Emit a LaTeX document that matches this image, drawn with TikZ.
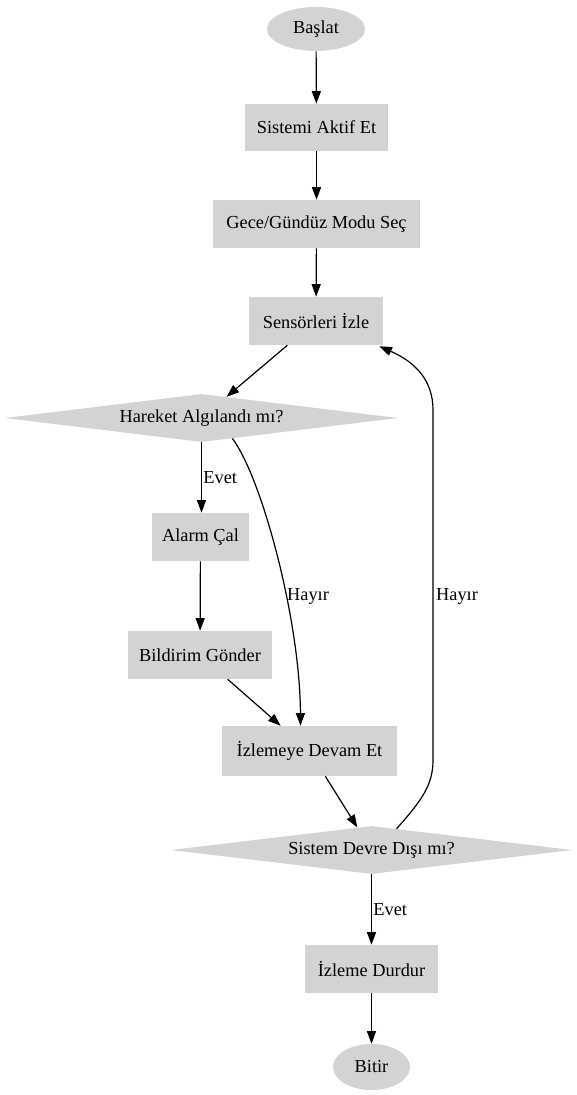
\documentclass[tikz,border=0pt]{standalone}
\usepackage{fontspec}
\setmainfont{Liberation Serif}
\usetikzlibrary{shapes.geometric,arrows.meta,calc}
\definecolor{gvgray}{HTML}{D3D3D3}
\begin{document}
\begin{tikzpicture}[x=0.75pt,y=-0.75pt,
  every node/.style={font=\fontsize{13.75pt}{16pt}\selectfont},
  box/.style={rectangle, fill=gvgray, draw=none, inner sep=0pt},
  oval/.style={ellipse, fill=gvgray, draw=none, inner sep=0pt},
  dia/.style={diamond, fill=gvgray, draw=none, inner sep=0pt, shape aspect=8},
  conn/.style={draw=black, line width=0.9pt, -{Triangle[length=9.5pt,width=6.8pt]}},
  lbl/.style={inner sep=1pt}
]
\useasboundingbox (0,0) rectangle (577,1095);

\node[oval, minimum width=73.5pt, minimum height=33pt] (start) at (316,29) {Başlat};
\node[box, minimum width=107.25pt, minimum height=35.25pt] (sys) at (316.5,127.5) {Sistemi Aktif Et};
\node[box, minimum width=155.25pt, minimum height=36pt] (mode) at (316.5,224) {Gece/Gündüz Modu Seç};
\node[box, minimum width=100.5pt, minimum height=36pt] (sens) at (316,321) {Sensörleri İzle};
\node[dia, minimum width=294.75pt, minimum height=36pt] (har) at (201.5,418) {Hareket Algılandı mı?};
\node[box, minimum width=72.75pt, minimum height=36pt] (alarm) at (200.5,537) {Alarm Çal};
\node[box, minimum width=108pt, minimum height=36pt] (bild) at (200,655) {Bildirim Gönder};
\node[box, minimum width=131.25pt, minimum height=37.5pt] (izd) at (309.5,751) {İzlemeye Devam Et};
\node[dia, minimum width=300.75pt, minimum height=36pt] (dev) at (371.5,850) {Sistem Devre Dışı mı?};
\node[box, minimum width=99.75pt, minimum height=36pt] (dur) at (371.5,969) {İzleme Durdur};
\node[oval, minimum width=57.75pt, minimum height=34.5pt] (end) at (371.5,1067) {Bitir};

\draw[conn] (start) -- (sys);
\draw[conn] (sys) -- (mode);
\draw[conn] (mode) -- (sens);
\draw[conn] (sens) -- (har);
\draw[conn] (har.south) -- node[lbl, right] {Evet} (har.south |- alarm.north);
\draw[conn] ($(har.south)!0.157!(har.east)$) .. controls (262,478) and (300,620) .. ($(izd.north)+(-9,0)$);
\node[lbl] (l1) at (308,596) {Hayır};
\draw[conn] (alarm) -- (bild);
\draw[conn] (bild) -- (izd);
\draw[conn] (izd) -- (dev);
\draw[conn] (dev.south) -- node[lbl, right] {Evet} (dev.south |- dur.north);
\draw[conn] (dur) -- (end);
\draw[conn] ($(dev.north)!0.125!(dev.east)$) .. controls (422,800) and (433,785) .. (433,760)
  -- (433,410) .. controls (433,380) and (415,362) .. ($(sens.south east)+(-4,1)$);
\node[lbl] (l2) at (457,596) {Hayır};
\end{tikzpicture}
\end{document}
